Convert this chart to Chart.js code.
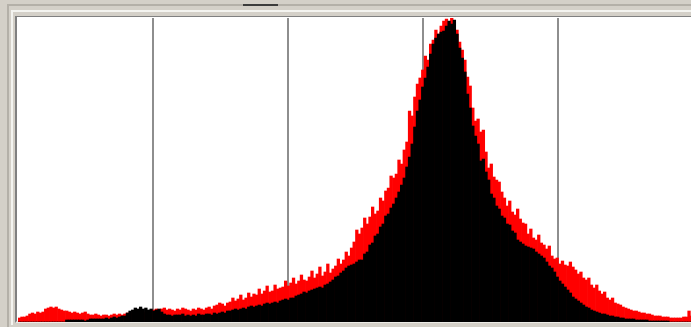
<!DOCTYPE html>
<html>
<head>
<meta charset="utf-8">
<script src="https://cdn.jsdelivr.net/npm/chart.js@4.4.1/dist/chart.umd.min.js"></script>
<style>
  html, body { margin: 0; padding: 0; width: 691px; height: 327px; overflow: hidden; background: #d4d0c8; }
  #outer { position: absolute; left: 7px; top: 4px; width: 720px; height: 340px;
           border-left: 2px solid #b4b0a8; border-top: 2px solid #b4b0a8; }
  #mid { position: absolute; left: 11px; top: 10px; width: 720px; height: 313px;
         border-left: 2px solid #f4f4f0; border-top: 2px solid #f4f4f0; }
  #inner { position: absolute; left: 15px; top: 16px; width: 720px; height: 304px;
           border-left: 2px solid #808080; border-top: 1px solid #808080; border-bottom: 2px solid #ecebe6; background: #fff; }
  #tab { position: absolute; left: 243px; top: 4px; width: 35px; height: 2px; background: #3c3c3c; }
  #wrap { position: absolute; left: 18px; top: 18px; width: 675px; height: 304px; }
</style>
</head>
<body>
<div id="outer"></div>
<div id="mid"></div>
<div id="inner"></div>
<div id="tab"></div>
<div id="wrap"><canvas id="c" width="675" height="304"></canvas></div>
<script>
// 256-bin histograms (bar heights, in plot pixels; full scale = 304)
const bins = Array.from({length: 256}, (_, i) => String(i));

const blackSeries = [
  0,0,0,0,0,0,0,0,0,0,
  0,0,0,0,0,0,0,0,2,2,
  2,2,2,2,2,1,2,3,3,3,
  3,3,3,4,3,4,5,4,5,6,
  6,9,11,12,14,13,15,13,14,12,
  13,11,12,13,10,8,7,7,6,7,
  7,7,8,6,7,6,7,6,8,7,
  7,8,8,7,9,8,9,10,9,11,
  11,12,13,12,13,14,13,15,16,15,
  16,17,16,18,19,18,19,20,19,21,
  22,23,22,24,24,26,27,28,30,29,
  31,32,33,34,35,34,37,38,40,42,
  45,46,49,51,54,56,57,58,60,62,
  62,68,70,77,79,86,88,95,98,106,
  108,114,118,124,130,137,144,155,165,178,
  195,211,222,235,244,255,268,278,284,288,
  290,291,296,301,298,302,288,274,264,250,
  228,214,196,186,178,161,163,150,142,128,
  124,116,113,106,104,98,97,91,89,82,
  80,78,76,75,74,73,70,68,66,64,
  60,56,54,50,45,41,38,35,32,29,
  25,23,21,19,17,15,14,12,11,10,
  9,8,8,7,6,6,5,5,4,4,
  3,3,3,3,2,2,2,2,2,1,
  1,1,1,1,1,1,1,0,0,0,
  0,0,0,0,0,0
];

const redSeries = [
  4,5,5,6,8,9,8,10,9,10,
  13,14,15,14,15,13,12,11,11,10,
  9,10,9,8,9,10,8,7,7,8,
  7,6,7,7,6,7,8,7,8,7,
  8,9,8,9,10,9,10,9,10,11,
  11,12,13,12,13,14,12,13,12,11,
  13,12,14,13,12,11,13,12,14,13,
  12,14,15,13,16,17,19,18,16,19,
  20,24,21,23,27,22,24,29,25,28,
  27,33,28,31,36,30,31,37,33,34,
  35,41,36,39,44,38,41,47,42,41,
  45,51,44,48,55,46,50,58,49,53,
  56,63,58,62,70,66,74,80,92,88,
  94,104,98,105,115,108,111,124,121,131,
  134,146,144,148,162,158,172,180,211,206,
  225,238,244,252,266,262,278,282,292,288,
  296,301,303,298,304,300,292,280,272,262,
  245,236,214,201,203,190,192,170,154,158,
  145,142,140,130,124,116,121,110,107,113,
  103,99,98,88,93,84,82,87,79,77,
  73,76,66,63,64,58,61,57,56,60,
  55,52,48,50,44,42,44,37,34,37,
  31,28,30,24,22,24,19,18,17,15,
  14,13,12,11,11,10,9,9,8,8,
  7,6,6,6,5,5,5,4,4,4,
  4,4,5,5,11,6
];

const gridDivisions = 5;

new Chart(document.getElementById('c'), {
  type: 'bar',
  data: {
    labels: bins,
    datasets: [
      { label: 'black', data: blackSeries, backgroundColor: '#000000', borderWidth: 0, order: 0,
        barPercentage: 1, categoryPercentage: 1, grouped: false },
      { label: 'red', data: redSeries, backgroundColor: '#ff0000', borderWidth: 0, order: 1,
        barPercentage: 1, categoryPercentage: 1, grouped: false }
    ]
  },
  options: {
    responsive: false,
    animation: false,
    devicePixelRatio: 1,
    layout: { padding: 0 },
    plugins: { legend: { display: false }, tooltip: { enabled: false } },
    scales: {
      x: { display: false },
      y: { display: false, min: 0, max: 304 },
      xg: {
        type: 'linear', position: 'bottom', axis: 'x', offset: false,
        min: 0, max: gridDivisions,
        ticks: { display: false, stepSize: 1 },
        border: { display: false },
        grid: {
          offset: false,
          drawTicks: false,
          lineWidth: 2,
          color: (ctx) => (ctx.tick && (ctx.tick.value === 0 || ctx.tick.value === gridDivisions)) ? 'rgba(0,0,0,0)' : '#8e8e8e'
        }
      }
    }
  }
});
</script>
</body>
</html>
